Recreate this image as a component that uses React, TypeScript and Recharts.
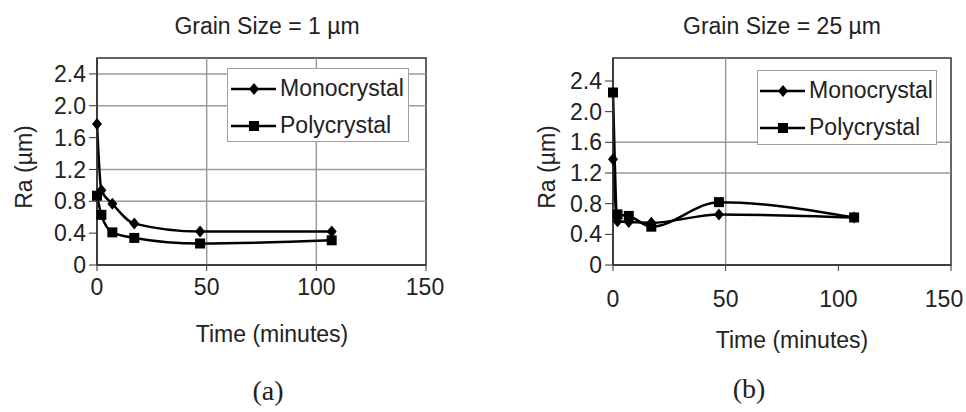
import React from "react";
import {
  LineChart,
  Line,
  XAxis,
  YAxis,
  ReferenceLine,
  ReferenceArea,
  Legend,
} from "recharts";

// polishing time (minutes), same for both panels
const times = [0, 2, 7, 17, 47, 107];

// Ra (µm), grain size 1 µm
const monoA = [1.77, 0.94, 0.77, 0.52, 0.42, 0.42];
const polyA = [0.87, 0.63, 0.41, 0.34, 0.27, 0.31];

// Ra (µm), grain size 25 µm
const monoB = [1.38, 0.57, 0.56, 0.55, 0.66, 0.62];
const polyB = [2.25, 0.66, 0.64, 0.5, 0.82, 0.62];

const seriesNames = ["Monocrystal", "Polycrystal"];
const xTicks = [0, 50, 100, 150];
const yTicks = [0, 0.4, 0.8, 1.2, 1.6, 2.0, 2.4];

// gridlines that are visible in the scanned figure
const gridYA = [2.4, 2.0, 1.2, 0.8];
const gridXA = [50, 100];
const gridYB = [1.6, 1.2];
const gridXB = [50];

const FONT = "'Liberation Sans', Arial, Helvetica, sans-serif";
const INK = "#222";

const buildData = (mono: number[], poly: number[]) =>
  times.map((t, i) => ({ t, mono: mono[i], poly: poly[i] }));

const Diamond = ({ cx, cy }: { cx: number; cy: number }) => (
  <path
    d={`M${cx},${cy - 6}L${cx + 5},${cy}L${cx},${cy + 6}L${cx - 5},${cy}Z`}
    fill="#000"
  />
);

const Square = ({ cx, cy }: { cx: number; cy: number }) => (
  <rect x={cx - 5} y={cy - 5} width={10} height={10} fill="#000" />
);

const markers = [Diamond, Square];

const renderDot = (Shape: typeof Diamond, tag: string) => (props: any) => {
  const { cx, cy, index } = props;
  return (
    <g key={`${tag}-${index}`}>
      <Shape cx={cx} cy={cy} />
    </g>
  );
};

// x tick label; the last one is nudged left so it stays inside the page
const makeXTick = (lastShift: number) => (props: any) => {
  const { x, y, payload } = props;
  const shift = payload.value === xTicks[xTicks.length - 1] ? lastShift : 0;
  return (
    <text
      x={x + shift}
      y={y}
      dy="0.71em"
      textAnchor="middle"
      fontSize={23}
      fontFamily={FONT}
      fill={INK}
    >
      {payload.value}
    </text>
  );
};

const LegendBox = ({ segLeft }: { segLeft: number }) => (
  <div style={{ paddingTop: 1 }}>
    {seriesNames.map((name, i) => {
      const Shape = markers[i];
      return (
        <div
          key={name}
          style={{ display: "flex", alignItems: "center", height: 37 }}
        >
          <svg width={segLeft + 47} height={16} style={{ display: "block" }}>
            <line
              x1={segLeft}
              x2={segLeft + 45}
              y1={8}
              y2={8}
              stroke="#000"
              strokeWidth={2.5}
            />
            <Shape cx={segLeft + 23} cy={8} />
          </svg>
          <span
            style={{
              fontFamily: FONT,
              fontSize: 23,
              color: INK,
              marginLeft: 2,
              lineHeight: "23px",
            }}
          >
            {name}
          </span>
        </div>
      );
    })}
  </div>
);

type PanelProps = {
  mono: number[];
  poly: number[];
  yMax: number;
  gridY: number[];
  gridX: number[];
  yAxisWidth: number;
  marginRight: number;
  xTickMargin: number;
  lastTickShift: number;
  legend: { left: number; top: number; width: number; height: number; seg: number };
  tag: string;
};

const Panel = (p: PanelProps) => {
  const data = buildData(p.mono, p.poly);
  const tickStyle = { fontSize: 23, fontFamily: FONT, fill: INK };
  return (
    <LineChart
      width={483}
      height={412}
      data={data}
      margin={{ top: 58, right: p.marginRight, bottom: 117, left: 0 }}
    >
      <ReferenceArea
        x1={0}
        x2={150}
        y1={0}
        y2={p.yMax}
        fill="none"
        stroke="#333"
        strokeWidth={1.5}
        ifOverflow="visible"
      />
      {p.gridY.map((v) => (
        <ReferenceLine key={`gy${v}`} y={v} stroke="#9a9a9a" strokeWidth={1.5} />
      ))}
      {p.gridX.map((v) => (
        <ReferenceLine key={`gx${v}`} x={v} stroke="#9a9a9a" strokeWidth={1.5} />
      ))}
      <XAxis
        type="number"
        dataKey="t"
        domain={[0, 150]}
        ticks={xTicks}
        height={30}
        tickSize={6}
        tickMargin={p.xTickMargin}
        tick={makeXTick(p.lastTickShift)}
        axisLine={{ stroke: "#333", strokeWidth: 1.5 }}
        tickLine={{ stroke: "#333" }}
        interval={0}
      />
      <YAxis
        type="number"
        domain={[0, p.yMax]}
        ticks={yTicks}
        width={p.yAxisWidth}
        tickSize={8}
        tickMargin={3}
        tick={tickStyle}
        tickFormatter={(v: number) => (v === 0 ? "0" : v.toFixed(1))}
        axisLine={{ stroke: "#333", strokeWidth: 1.5 }}
        tickLine={{ stroke: "#333" }}
        interval={0}
      />
      <Legend
        layout="vertical"
        align="center"
        verticalAlign="middle"
        wrapperStyle={{
          left: p.legend.left,
          top: p.legend.top,
          width: p.legend.width,
          height: p.legend.height,
          border: "1.5px solid #a0a0a0",
          background: "#fff",
          boxSizing: "border-box",
        }}
        content={() => <LegendBox segLeft={p.legend.seg} />}
      />
      <Line
        type="monotone"
        dataKey="mono"
        name={seriesNames[0]}
        stroke="#000"
        strokeWidth={2.5}
        dot={renderDot(Diamond, `${p.tag}m`)}
        activeDot={false}
        isAnimationActive={false}
      />
      <Line
        type="monotone"
        dataKey="poly"
        name={seriesNames[1]}
        stroke="#000"
        strokeWidth={2.5}
        dot={renderDot(Square, `${p.tag}p`)}
        activeDot={false}
        isAnimationActive={false}
      />
    </LineChart>
  );
};

const Txt = ({
  x,
  y,
  children,
  size = 23,
  family = FONT,
  rotate = false,
}: {
  x: number;
  y: number;
  children: React.ReactNode;
  size?: number;
  family?: string;
  rotate?: boolean;
}) => (
  <div
    style={{
      position: "absolute",
      left: x,
      top: y,
      transform: `translate(-50%, -50%)${rotate ? " rotate(-90deg)" : ""}`,
      fontFamily: family,
      fontSize: size,
      color: INK,
      whiteSpace: "nowrap",
      lineHeight: 1,
    }}
  >
    {children}
  </div>
);

export default function App() {
  return (
    <div
      style={{
        position: "absolute",
        left: 0,
        top: 0,
        width: 966,
        height: 412,
        background: "#fff",
        overflow: "hidden",
      }}
    >
      <div style={{ position: "absolute", left: 0, top: 0 }}>
        <Panel
          mono={monoA}
          poly={polyA}
          yMax={2.6}
          gridY={gridYA}
          gridX={gridXA}
          yAxisWidth={97}
          marginRight={57}
          xTickMargin={8}
          lastTickShift={-1}
          legend={{ left: 227, top: 68, width: 182, height: 74, seg: 3 }}
          tag="a"
        />
      </div>
      <div style={{ position: "absolute", left: 483, top: 0 }}>
        <Panel
          mono={monoB}
          poly={polyB}
          yMax={2.7}
          gridY={gridYB}
          gridX={gridXB}
          yAxisWidth={130}
          marginRight={15}
          xTickMargin={20}
          lastTickShift={-7}
          legend={{ left: 274, top: 70, width: 180, height: 75, seg: 2 }}
          tag="b"
        />
      </div>

      <Txt x={267} y={26}>Grain Size = 1 µm</Txt>
      <Txt x={782} y={26}>Grain Size = 25 µm</Txt>

      <Txt x={24} y={167} rotate>Ra (µm)</Txt>
      <Txt x={547} y={167} rotate>Ra (µm)</Txt>

      <Txt x={272} y={334}>Time (minutes)</Txt>
      <Txt x={792} y={340}>Time (minutes)</Txt>

      <Txt x={268} y={391} size={28} family="'Liberation Serif', 'Times New Roman', serif">
        (a)
      </Txt>
      <Txt x={749} y={389} size={28} family="'Liberation Serif', 'Times New Roman', serif">
        (b)
      </Txt>
    </div>
  );
}
